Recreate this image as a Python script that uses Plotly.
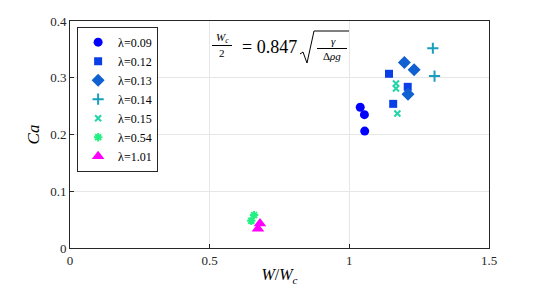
import plotly.graph_objects as go

labels = ["λ=0.09", "λ=0.12", "λ=0.13", "λ=0.14", "λ=0.15", "λ=0.54", "λ=1.01"]
x_vals = [
    [1.039, 1.054, 1.055],
    [1.142, 1.209, 1.157],
    [1.197, 1.232, 1.210],
    [1.299, 1.305],
    [1.167, 1.167, 1.172],
    [0.659, 0.649],
    [0.680, 0.673],
]
y_vals = [
    [0.248, 0.235, 0.206],
    [0.307, 0.284, 0.254],
    [0.327, 0.314, 0.271],
    [0.352, 0.303],
    [0.290, 0.281, 0.237],
    [0.058, 0.048],
    [0.043, 0.034],
]
symbols = ["circle", "square", "diamond", "cross-thin", "x-thin", "asterisk", "triangle-up"]
colors = ["#0000FF", "#0A3FE8", "#1060D2", "#1A9EBE", "#22D4A8", "#22F080", "#FF00FF"]
sizes = [9, 8, 10, 8, 6, 7, 11]

fig = go.Figure()
for lab, xs, ys, sym, col, sz in zip(labels, x_vals, y_vals, symbols, colors, sizes):
    thin = sym in ("cross-thin", "x-thin", "asterisk")
    fig.add_trace(go.Scatter(
        x=xs, y=ys, mode="markers", name=lab,
        marker=dict(symbol=sym, color=col, size=sz,
                    line=dict(color=col, width=2 if thin else 0)),
    ))

serif = "Liberation Serif, DejaVu Serif, Times New Roman, serif"
fig.update_layout(
    width=540, height=288,
    margin=dict(l=62, r=59, t=13, b=48, autoexpand=False),
    paper_bgcolor="white", plot_bgcolor="white",
    font=dict(family=serif, size=13, color="#262626"),
    showlegend=True,
    legend=dict(x=0.017, y=0.975, xanchor="left", yanchor="top",
                bordercolor="#262626", borderwidth=1, bgcolor="white",
                font=dict(family=serif, size=12, color="#000"),
                tracegroupgap=0, itemwidth=30),
    xaxis=dict(range=[0, 1.5], tickvals=[0, 0.5, 1, 1.5], ticktext=["0", "0.5", "1", "1.5"],
               showgrid=True, gridcolor="#E6E6E6", gridwidth=1, zeroline=False,
               showline=True, linecolor="#262626", linewidth=1, mirror=True,
               ticks="inside", ticklen=4, tickcolor="#262626", automargin=False,
               title=dict(text="<i>W</i>/<i>W<sub>c</sub></i>", standoff=2,
                          font=dict(family=serif, size=16, color="#000"))),
    yaxis=dict(range=[0, 0.4], tickvals=[0, 0.1, 0.2, 0.3, 0.4], ticktext=["0", "0.1", "0.2", "0.3", "0.4"],
               showgrid=True, gridcolor="#E6E6E6", gridwidth=1, zeroline=False,
               showline=True, linecolor="#262626", linewidth=1, mirror=True,
               ticks="inside", ticklen=4, tickcolor="#262626", automargin=False,
               title=dict(text="<i>Ca</i>", standoff=6,
                          font=dict(family=serif, size=17, color="#000"))),
)

# Equation annotation: W_c/2 = 0.847 sqrt(gamma / (Delta rho g))
def px(xp):
    return (xp - 70) / 419.0
def py(yp):
    return (248 - yp) / 227.0

eqfont = dict(family=serif, size=11, color="#000")
anns = [
    dict(x=px(222), y=py(38), text="<i>W<sub>c</sub></i>", font=eqfont),
    dict(x=px(222), y=py(53), text="2", font=eqfont),
    dict(x=px(269), y=py(47), text="= 0.847", font=dict(family=serif, size=18, color="#000")),
    dict(x=px(333), y=py(41), text="<i>γ</i>", font=eqfont),
    dict(x=px(332), y=py(56), text="Δ<i>ρg</i>", font=eqfont),
]
for a in anns:
    fig.add_annotation(xref="paper", yref="paper", xanchor="center", yanchor="middle",
                       showarrow=False, **a)
# fraction bars and radical
fig.add_shape(type="line", xref="paper", yref="paper",
              x0=px(212), x1=px(232), y0=py(45.5), y1=py(45.5), line=dict(color="#000", width=1))
fig.add_shape(type="line", xref="paper", yref="paper",
              x0=px(317), x1=px(347), y0=py(48.5), y1=py(48.5), line=dict(color="#000", width=1))
fig.add_shape(type="path", xref="paper", yref="paper",
              path=f"M {px(300)} {py(54)} L {px(303)} {py(52)} L {px(307)} {py(63)} L {px(314)} {py(31)} L {px(349)} {py(31)}",
              line=dict(color="#000", width=1))

fig.write_html("out.html")
